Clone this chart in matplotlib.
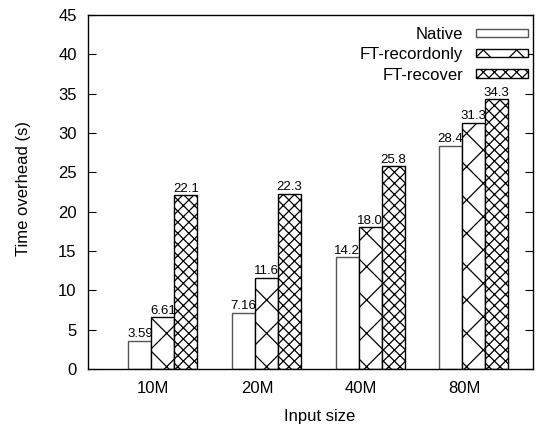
import numpy as np
import matplotlib
matplotlib.use("Agg")
import matplotlib.pyplot as plt

plt.rcParams['font.family'] = ['Liberation Sans', 'DejaVu Sans']
plt.rcParams['hatch.linewidth'] = 0.9

# data
sizes = ["10M", "20M", "40M", "80M"]
native = [3.59, 7.16, 14.2, 28.4]
ft_recordonly = [6.61, 11.6, 18.0, 31.3]
ft_recover = [22.1, 22.3, 25.8, 34.3]
series_names = ["Native", "FT-recordonly", "FT-recover"]
hatches = ["", "x", "xxx"]

fig = plt.figure(figsize=(5.52, 4.28), dpi=100)
ax = fig.add_axes([0.159, 0.138, 0.807, 0.827])

x = np.arange(len(sizes))
w = 0.222
offsets = [-0.13, 0.092, 0.314]
labels_fmt = [["3.59", "7.16", "14.2", "28.4"],
              ["6.61", "11.6", "18.0", "31.3"],
              ["22.1", "22.3", "25.8", "34.3"]]

for k, vals in enumerate([native, ft_recordonly, ft_recover]):
    ec = "#555555" if k == 0 else "black"
    ax.bar(x + offsets[k], vals, width=w, color="white", edgecolor=ec,
           hatch=hatches[k], linewidth=1.0, label=series_names[k])
    for i, v in enumerate(vals):
        ax.text(x[i] + offsets[k], v + 0.05, labels_fmt[k][i],
                ha="center", va="bottom", fontsize=9.5)

ax.set_xlim(-0.633, 3.667)
ax.set_ylim(0, 45)
ax.set_yticks(np.arange(0, 46, 5))
ax.set_xticks(x)
ax.set_xticklabels(sizes, fontsize=12)
ax.tick_params(axis="x", length=0, pad=9)
ax.tick_params(axis="y", direction="in", length=6, right=True, labelsize=12, pad=8)
for s in ax.spines.values():
    s.set_linewidth(1.0)

ax.set_xlabel("Input size", fontsize=12)
ax.xaxis.set_label_coords(0.52, -0.113)
ax.set_ylabel("Time overhead (s)", fontsize=12)
ax.yaxis.set_label_coords(-0.127, 0.51)

ax.legend(loc="upper right", bbox_to_anchor=(1.007, 0.99), frameon=False,
          markerfirst=False, fontsize=12, handlelength=3.1, handleheight=0.4,
          labelspacing=0.32, handletextpad=0.8, borderpad=0.0)

fig.savefig("out.png", dpi=100)
